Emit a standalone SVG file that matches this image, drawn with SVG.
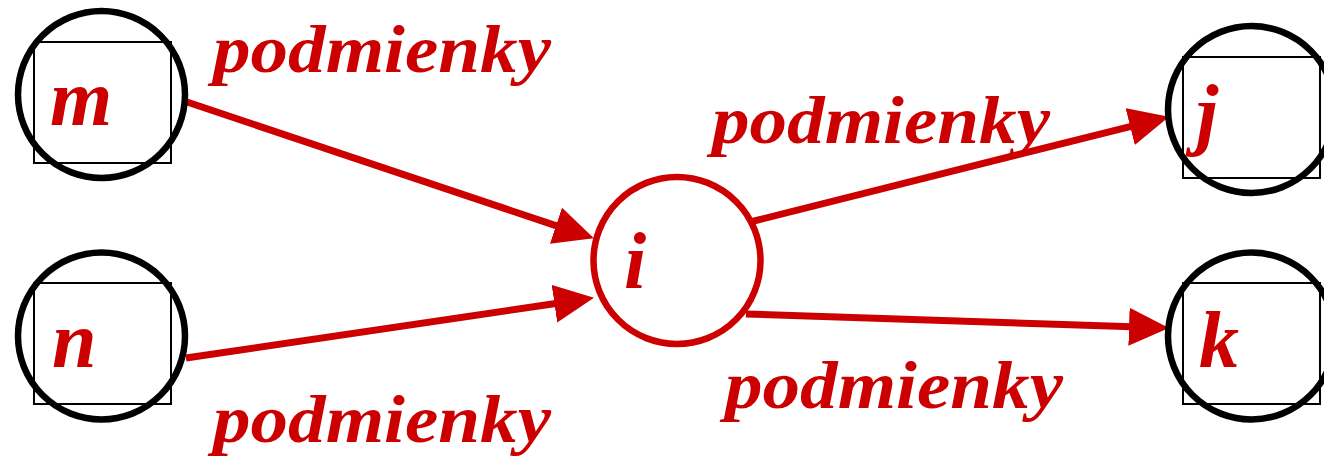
<svg xmlns="http://www.w3.org/2000/svg" width="1324" height="456" viewBox="0 0 1324 456">
<style>
.box{fill:none;stroke:#000;stroke-width:2}
.ring{fill:none;stroke:#000;stroke-width:6.5}
.ringr{fill:none;stroke:#CC0000;stroke-width:6.5}
.lbl{font-family:"Liberation Serif","Times New Roman",serif;font-weight:bold;font-style:italic;fill:#CC0000}
.node{font-size:80px}
.cond{font-size:68px}
.edge{stroke:#CC0000;stroke-width:7;fill:none}
</style>
<defs>
<marker id="ah" markerUnits="userSpaceOnUse" markerWidth="42" markerHeight="40" refX="3" refY="19" orient="auto" viewBox="0 0 42 40">
<path d="M0,0 L40,19 L0,38 z" fill="#CC0000"/>
</marker>
</defs>
<rect width="1324" height="456" fill="#fff"/>
<g id="connectors">
<line class="edge" x1="187" y1="102" x2="558.8" y2="226.6" marker-end="url(#ah)"/>
<line class="edge" x1="186" y1="358" x2="557.4" y2="303.2" marker-end="url(#ah)"/>
<line class="edge" x1="750" y1="222" x2="1133.1" y2="125.8" marker-end="url(#ah)"/>
<line class="edge" x1="746" y1="314" x2="1132" y2="326.8" marker-end="url(#ah)"/>
</g>
<g id="node-m">
<rect class="box" x="34" y="42" width="137" height="121"/>
<circle class="ring" cx="101.5" cy="94.5" r="83.5"/>
<text class="lbl node" x="50" y="125">m</text>
</g>
<g id="node-n">
<rect class="box" x="34" y="283" width="137" height="121"/>
<circle class="ring" cx="101.5" cy="336" r="83.5"/>
<text class="lbl node" x="52" y="367">n</text>
</g>
<g id="node-i">
<circle class="ringr" cx="677" cy="260.5" r="83.5" fill="#fff"/>
<text class="lbl node" x="624" y="288">i</text>
</g>
<g id="node-j">
<rect class="box" x="1183" y="57" width="137" height="121"/>
<circle class="ring" cx="1251.5" cy="109.5" r="83.5"/>
<text class="lbl node" x="1196" y="140">j</text>
</g>
<g id="node-k">
<rect class="box" x="1183" y="283" width="137" height="121"/>
<circle class="ring" cx="1251.5" cy="336" r="83.5"/>
<text class="lbl node" x="1199" y="367">k</text>
</g>
<g id="labels">
<text class="lbl cond" x="213" y="72" textLength="338" lengthAdjust="spacingAndGlyphs">podmienky</text>
<text class="lbl cond" x="712" y="143" textLength="338" lengthAdjust="spacingAndGlyphs">podmienky</text>
<text class="lbl cond" x="725" y="408" textLength="338" lengthAdjust="spacingAndGlyphs">podmienky</text>
<text class="lbl cond" x="213" y="442" textLength="338" lengthAdjust="spacingAndGlyphs">podmienky</text>
</g>
</svg>
